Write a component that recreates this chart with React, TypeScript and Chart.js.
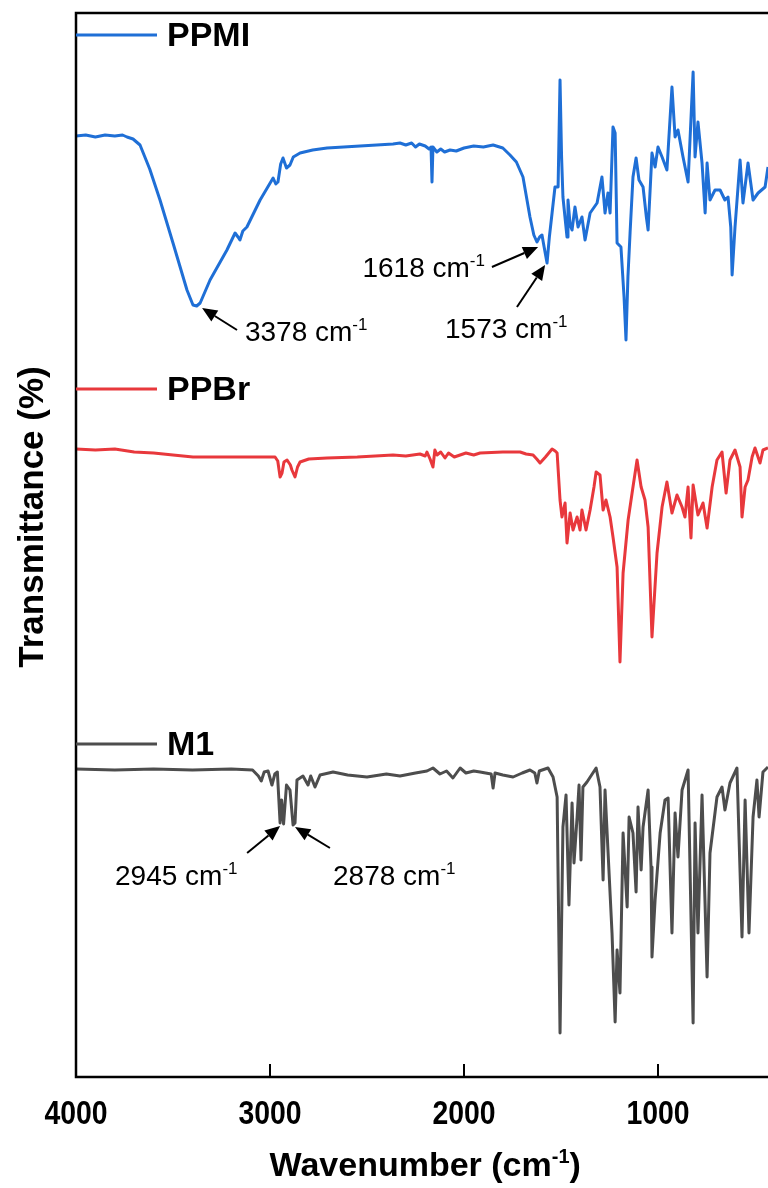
import React, { useEffect, useRef } from "react";
import { Chart, registerables } from "chart.js";

Chart.register(...registerables);

// ---- Axis ----
const xTicks = [4000, 3000, 2000, 1000];
const xMin = 433;
const xMax = 4000;

// ---- PPMI (blue) ----
const ppmiWavenumber = [4000, 3950, 3900, 3850, 3800, 3760, 3737, 3706, 3670, 3620, 3567, 3500, 3428, 3397, 3378, 3360, 3309, 3222, 3180, 3165, 3155, 3140, 3119, 3051, 2984, 2970, 2959, 2945, 2933, 2915, 2897, 2880, 2845, 2780, 2706, 2620, 2536, 2450, 2366, 2330, 2300, 2270, 2250, 2230, 2200, 2180, 2170, 2165, 2160, 2140, 2120, 2100, 2072, 2040, 2000, 1950, 1900, 1850, 1800, 1763, 1730, 1696, 1660, 1640, 1624, 1610, 1598, 1587, 1572, 1560, 1546, 1531, 1515, 1505, 1497, 1490, 1469, 1464, 1453, 1443, 1428, 1412, 1392, 1376, 1350, 1314, 1289, 1280, 1273, 1258, 1247, 1232, 1221, 1211, 1191, 1175, 1165, 1155, 1144, 1129, 1113, 1098, 1077, 1060, 1051, 1031, 1015, 1000, 979, 954, 928, 912, 897, 871, 845, 819, 809, 794, 773, 757, 747, 732, 706, 680, 655, 639, 625, 618, 603, 577, 562, 536, 510, 484, 448, 433];
const ppmiT = [94.1, 94.2, 94.0, 94.2, 94.1, 94.2, 94.0, 93.8, 93.2, 90.8, 87.7, 83.4, 78.7, 77.2, 77.1, 77.4, 79.7, 82.7, 84.4, 84.0, 83.7, 84.6, 85.0, 87.7, 89.9, 89.3, 89.5, 91.3, 91.9, 90.9, 91.2, 92.0, 92.4, 92.7, 92.9, 93.0, 93.1, 93.2, 93.3, 93.4, 93.2, 93.4, 93.0, 93.3, 93.1, 92.8, 93.0, 89.5, 93.0, 92.5, 92.8, 92.5, 92.7, 92.6, 92.9, 93.1, 93.0, 93.2, 92.9, 92.2, 91.5, 90.0, 86.0, 84.2, 83.5, 84.0, 84.2, 83.0, 81.4, 84.0, 86.4, 89.0, 89.0, 99.7, 92.0, 88.0, 84.0, 87.7, 85.2, 84.7, 87.0, 85.0, 86.0, 83.7, 86.4, 87.4, 90.0, 88.0, 86.4, 88.4, 86.4, 95.0, 94.4, 83.4, 83.0, 78.0, 73.7, 80.0, 84.4, 90.0, 91.9, 89.7, 89.0, 86.0, 84.7, 92.4, 91.0, 93.0, 92.0, 90.7, 99.0, 94.0, 94.7, 92.0, 89.5, 100.5, 92.0, 95.5, 91.4, 86.4, 91.4, 87.7, 88.7, 88.7, 87.7, 88.0, 85.0, 80.2, 85.0, 91.7, 87.4, 91.4, 87.7, 88.4, 89.0, 91.0];

// ---- PPBr (red) ----
const ppbrWavenumber = [4000, 3900, 3800, 3700, 3600, 3500, 3397, 3200, 3051, 2974, 2960, 2948, 2938, 2928, 2912, 2895, 2887, 2871, 2858, 2845, 2800, 2706, 2550, 2366, 2300, 2227, 2200, 2191, 2175, 2160, 2150, 2139, 2120, 2098, 2080, 2050, 2020, 1990, 1950, 1917, 1800, 1711, 1680, 1644, 1625, 1608, 1580, 1546, 1530, 1520, 1505, 1495, 1479, 1469, 1453, 1438, 1417, 1402, 1392, 1371, 1350, 1330, 1319, 1299, 1283, 1268, 1247, 1232, 1211, 1196, 1180, 1154, 1129, 1108, 1087, 1067, 1051, 1031, 1005, 979, 954, 928, 902, 876, 861, 845, 830, 819, 794, 768, 747, 721, 696, 670, 649, 629, 603, 577, 567, 551, 536, 515, 500, 474, 459, 433];
const ppbrT = [62.8, 62.7, 62.8, 62.5, 62.4, 62.2, 62.0, 62.0, 62.0, 62.0, 61.6, 60.0, 60.4, 61.5, 61.7, 61.2, 60.7, 60.0, 61.0, 61.5, 61.8, 61.9, 62.0, 62.2, 62.1, 62.3, 62.1, 62.5, 61.8, 61.0, 62.7, 62.2, 62.5, 61.9, 62.4, 62.0, 62.2, 62.4, 62.2, 62.4, 62.5, 62.5, 62.3, 62.2, 61.8, 61.4, 62.0, 62.8, 62.6, 62.4, 57.7, 56.0, 57.4, 53.4, 56.4, 54.7, 56.0, 54.7, 56.7, 54.7, 56.7, 59.0, 60.5, 60.2, 56.7, 57.7, 56.0, 54.0, 51.0, 41.5, 50.4, 55.7, 59.0, 61.7, 59.0, 57.7, 55.0, 44.0, 52.4, 57.0, 59.5, 56.4, 58.2, 57.0, 56.0, 59.0, 53.9, 59.2, 56.2, 57.4, 54.9, 59.0, 61.7, 62.5, 58.4, 61.7, 62.7, 61.0, 56.0, 59.0, 59.7, 62.0, 62.9, 61.4, 62.7, 62.9];

// ---- M1 (grey) ----
const m1Wavenumber = [4000, 3800, 3600, 3400, 3200, 3090, 3060, 3045, 3030, 3010, 2990, 2975, 2962, 2948, 2940, 2930, 2915, 2897, 2881, 2871, 2861, 2830, 2804, 2790, 2768, 2742, 2675, 2600, 2500, 2400, 2330, 2250, 2191, 2160, 2124, 2090, 2057, 2020, 1990, 1950, 1917, 1860, 1850, 1840, 1800, 1747, 1700, 1660, 1635, 1624, 1612, 1567, 1541, 1520, 1505, 1490, 1474, 1459, 1443, 1433, 1417, 1407, 1397, 1387, 1366, 1319, 1299, 1283, 1273, 1258, 1237, 1221, 1211, 1196, 1180, 1159, 1149, 1129, 1113, 1103, 1087, 1077, 1051, 1036, 1031, 1015, 989, 964, 948, 928, 912, 897, 876, 845, 819, 809, 794, 773, 747, 732, 696, 670, 655, 629, 593, 567, 551, 531, 510, 490, 479, 459, 433];
const m1T = [30.8, 30.7, 30.8, 30.7, 30.8, 30.7, 30.1, 29.6, 30.5, 30.6, 29.2, 30.3, 30.5, 25.4, 27.7, 25.3, 29.2, 28.7, 25.2, 25.4, 29.7, 30.1, 29.2, 30.1, 29.0, 30.2, 30.5, 30.2, 30.0, 30.3, 30.1, 30.4, 30.6, 30.9, 30.3, 30.6, 29.9, 30.9, 30.4, 30.6, 30.5, 30.3, 28.9, 30.4, 30.2, 30.0, 30.4, 30.7, 30.4, 29.4, 30.6, 30.9, 30.0, 28.0, 4.4, 25.0, 28.2, 17.2, 27.4, 21.4, 26.0, 29.2, 21.7, 29.0, 29.5, 30.9, 29.0, 19.7, 28.7, 22.7, 14.4, 5.5, 12.7, 8.4, 24.4, 17.0, 26.0, 24.4, 18.5, 27.0, 20.7, 25.0, 28.7, 21.0, 12.0, 17.7, 24.4, 27.7, 27.9, 14.4, 26.4, 22.0, 28.7, 30.7, 5.4, 25.4, 14.4, 28.2, 10.0, 22.4, 28.0, 29.0, 26.7, 29.4, 30.9, 14.0, 27.7, 14.4, 26.0, 29.7, 26.0, 30.5, 31.0];

// ---- Series meta ----
const seriesNames = ["PPMI", "PPBr", "M1"];
const seriesColors = ["rgb(31,111,214)", "rgb(232,56,60)", "rgb(77,77,77)"];
const legendY = [104.2, 68.8, 33.3];

// ---- Peak annotations: [label, headW, headY, tailW, tailY, textW, textY, align] ----
const annoLabels = ["3378", "1618", "1573", "2945", "2878"];
const annoHead = [[3350, 76.9], [1618, 83.0], [1582, 81.2], [2948, 25.1], [2871, 25.0]];
const annoTail = [[3170, 74.7], [1856, 81.0], [1727, 77.0], [3118, 22.4], [2691, 22.9]];
const annoText = [[3129, 73.6], [1892, 80.0], [2098, 73.9], [3799, 19.2], [2675, 19.2]];
const annoAlign = ["left", "right", "left", "left", "left"];

const FONT = '"Liberation Sans", Arial, Helvetica, sans-serif';

function zip(xs: number[], ys: number[]) {
  return xs.map((x, i) => ({ x, y: ys[i] }));
}

function drawSup(
  ctx: CanvasRenderingContext2D,
  x: number,
  y: number,
  main: string,
  sup: string,
  tail: string,
  font: string,
  supFont: string,
  raise: number,
  align: string
) {
  ctx.font = font;
  const w1 = ctx.measureText(main).width;
  const w3 = tail ? ctx.measureText(tail).width : 0;
  ctx.font = supFont;
  const w2 = ctx.measureText(sup).width;
  const total = w1 + w2 + w3;
  let sx = x;
  if (align === "center") sx = x - total / 2;
  else if (align === "right") sx = x - total;
  ctx.textAlign = "left";
  ctx.textBaseline = "alphabetic";
  ctx.font = font;
  ctx.fillText(main, sx, y);
  ctx.font = supFont;
  ctx.fillText(sup, sx + w1, y - raise);
  if (tail) {
    ctx.font = font;
    ctx.fillText(tail, sx + w1 + w2, y);
  }
}

function drawArrow(ctx: CanvasRenderingContext2D, x1: number, y1: number, x2: number, y2: number) {
  const ang = Math.atan2(y2 - y1, x2 - x1);
  const hl = 15;
  const hw = 6.5;
  const bx = x2 - hl * Math.cos(ang);
  const by = y2 - hl * Math.sin(ang);
  ctx.beginPath();
  ctx.moveTo(x1, y1);
  ctx.lineTo(bx, by);
  ctx.stroke();
  ctx.beginPath();
  ctx.moveTo(x2, y2);
  ctx.lineTo(bx + hw * Math.sin(ang), by - hw * Math.cos(ang));
  ctx.lineTo(bx - hw * Math.sin(ang), by + hw * Math.cos(ang));
  ctx.closePath();
  ctx.fill();
}

const decorPlugin = {
  id: "decor",
  afterDraw(chart: any) {
    const ctx: CanvasRenderingContext2D = chart.ctx;
    const { left, top, right, bottom } = chart.chartArea;
    const xs = chart.scales.x;
    const ys = chart.scales.y;
    ctx.save();
    ctx.fillStyle = "#000";
    ctx.strokeStyle = "#000";
    // frame (left, top, bottom)
    ctx.lineWidth = 2.5;
    ctx.lineCap = "butt";
    ctx.beginPath();
    ctx.moveTo(right + 5, top);
    ctx.lineTo(left, top);
    ctx.lineTo(left, bottom);
    ctx.lineTo(right + 5, bottom);
    ctx.stroke();
    // ticks
    ctx.lineWidth = 2;
    xTicks.forEach((t) => {
      const x = xs.getPixelForValue(t);
      ctx.beginPath();
      ctx.moveTo(x, bottom);
      ctx.lineTo(x, bottom - 13);
      ctx.stroke();
    });
    // tick labels
    ctx.font = "bold 33px " + FONT;
    ctx.textAlign = "center";
    ctx.textBaseline = "alphabetic";
    xTicks.forEach((t) => {
      const x = xs.getPixelForValue(t);
      ctx.save();
      ctx.translate(x, bottom + 47);
      ctx.scale(0.86, 1);
      ctx.fillText(String(t), 0, 0);
      ctx.restore();
    });
    // x title
    drawSup(
      ctx,
      xs.getPixelForValue(2200),
      bottom + 99,
      "Wavenumber (cm",
      "-1",
      ")",
      "bold 34px " + FONT,
      "bold 20px " + FONT,
      13,
      "center"
    );
    // y title
    ctx.save();
    ctx.translate(33, 517);
    ctx.rotate(-Math.PI / 2);
    ctx.font = "bold 35px " + FONT;
    ctx.textAlign = "center";
    ctx.textBaseline = "middle";
    ctx.fillText("Transmittance (%)", 0, 0);
    ctx.restore();
    // legend entries
    seriesNames.forEach((name, i) => {
      const y = ys.getPixelForValue(legendY[i]);
      ctx.strokeStyle = seriesColors[i];
      ctx.lineWidth = 3;
      ctx.beginPath();
      ctx.moveTo(left, y);
      ctx.lineTo(left + 81, y);
      ctx.stroke();
      ctx.fillStyle = "#000";
      ctx.font = "bold 34px " + FONT;
      ctx.textAlign = "left";
      ctx.textBaseline = "middle";
      ctx.fillText(name, left + 91, y + 2);
    });
    // annotations
    ctx.strokeStyle = "#000";
    ctx.fillStyle = "#000";
    ctx.lineWidth = 2;
    annoLabels.forEach((lab, i) => {
      const hx = xs.getPixelForValue(annoHead[i][0]);
      const hy = ys.getPixelForValue(annoHead[i][1]);
      const tx = xs.getPixelForValue(annoTail[i][0]);
      const ty = ys.getPixelForValue(annoTail[i][1]);
      drawArrow(ctx, tx, ty, hx, hy);
      const lx = xs.getPixelForValue(annoText[i][0]);
      const ly = ys.getPixelForValue(annoText[i][1]);
      drawSup(ctx, lx, ly, lab + " cm", "-1", "", "28px " + FONT, "17px " + FONT, 11, annoAlign[i]);
    });
    ctx.restore();
  },
};

export default function App() {
  const canvasRef = useRef<HTMLCanvasElement | null>(null);

  useEffect(() => {
    if (!canvasRef.current) return;
    const chart = new Chart(canvasRef.current, {
      type: "line",
      data: {
        datasets: [
          { label: "PPMI", data: zip(ppmiWavenumber, ppmiT), borderColor: seriesColors[0] },
          { label: "PPBr", data: zip(ppbrWavenumber, ppbrT), borderColor: seriesColors[1] },
          { label: "M1", data: zip(m1Wavenumber, m1T), borderColor: seriesColors[2] },
        ].map((d) => ({
          ...d,
          borderWidth: 3,
          pointRadius: 0,
          tension: 0,
          fill: false,
          borderJoinStyle: "round" as const,
        })),
      },
      options: {
        responsive: false,
        animation: false,
        devicePixelRatio: 1,
        layout: { padding: { left: 76, top: 13, right: 0, bottom: 111 } },
        scales: {
          x: { type: "linear", reverse: true, min: xMin, max: xMax, display: false },
          y: { type: "linear", min: 0, max: 106.4, display: false },
        },
        plugins: { legend: { display: false }, tooltip: { enabled: false } },
        events: [],
      },
      plugins: [decorPlugin],
    } as any);
    return () => chart.destroy();
  }, []);

  return (
    <div style={{ position: "absolute", left: 0, top: 0, width: 768, height: 1188, background: "#fff" }}>
      <canvas ref={canvasRef} width={768} height={1188} style={{ display: "block", width: 768, height: 1188 }} />
    </div>
  );
}
